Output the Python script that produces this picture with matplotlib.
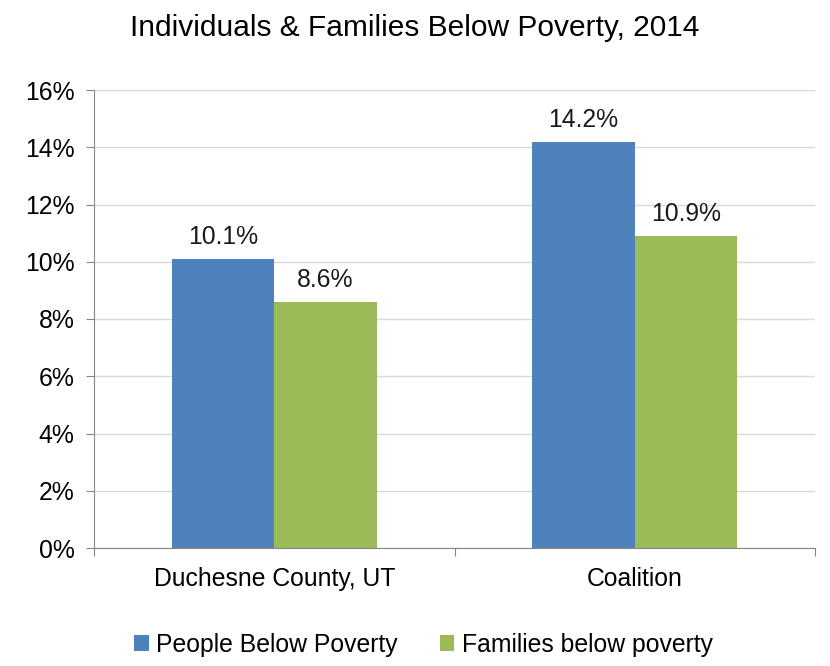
import matplotlib.pyplot as plt
import numpy as np
from matplotlib.ticker import FuncFormatter

plt.rcParams['font.family'] = ['Liberation Sans', 'DejaVu Sans']

categories = ["Duchesne County, UT", "Coalition"]
people = [10.1, 14.2]
families = [8.6, 10.9]
series_names = ["People Below Poverty", "Families below poverty"]
y_ticks = [0, 2, 4, 6, 8, 10, 12, 14, 16]

blue = '#4F81BD'
green = '#9BBB59'
axis_gray = '#868686'
fs = 17.8

fig = plt.figure(figsize=(8.3, 6.66), dpi=100)
ax = fig.add_axes([94 / 830, 1 - 548 / 666, (815 - 94) / 830, (548 - 90) / 666])

x = np.arange(len(categories))
w = 0.285
b1 = ax.bar(x - w / 2, people, w, color=blue, label=series_names[0])
b2 = ax.bar(x + w / 2, families, w, color=green, label=series_names[1])

# value labels above bars
for bars, vals in [(b1, people), (b2, families)]:
    for rect, v in zip(bars, vals):
        ax.annotate(f"{v:.1f}%", (rect.get_x() + rect.get_width() / 2, v),
                    xytext=(0, 7), textcoords='offset points',
                    ha='center', va='bottom', fontsize=fs, color='#1a1a1a')

ax.set_xlim(-0.5, 1.5)
ax.set_ylim(0, 16)
ax.set_yticks(y_ticks)
ax.yaxis.set_major_formatter(FuncFormatter(lambda v, p: f"{v:.0f}%"))
ax.set_xticks([-0.5, 0.5, 1.5])
ax.set_xticklabels([])
ax.set_xticks(x, minor=True)
ax.set_xticklabels(categories, minor=True, fontsize=fs)
ax.tick_params(axis='x', which='minor', length=0, pad=14)
ax.tick_params(axis='x', which='major', length=6, color=axis_gray, direction='out')
ax.tick_params(axis='y', length=6, color=axis_gray, labelsize=fs, pad=8)

ax.grid(axis='y', color='#d9d9d9', linewidth=1)
ax.set_axisbelow(True)
for s in ['top', 'right']:
    ax.spines[s].set_visible(False)
ax.spines['left'].set_color(axis_gray)
ax.spines['bottom'].set_color(axis_gray)

fig.suptitle("Individuals & Families Below Poverty, 2014", fontsize=21.5, y=1 - 28 / 666, va='center')

fig.legend(handles=[b1, b2], loc='center', bbox_to_anchor=(0.51, 1 - 645 / 666),
           ncol=2, frameon=False, fontsize=fs, handlelength=0.6, handleheight=0.6,
           handletextpad=0.3, columnspacing=1.7)

fig.savefig('out.png', dpi=100)
